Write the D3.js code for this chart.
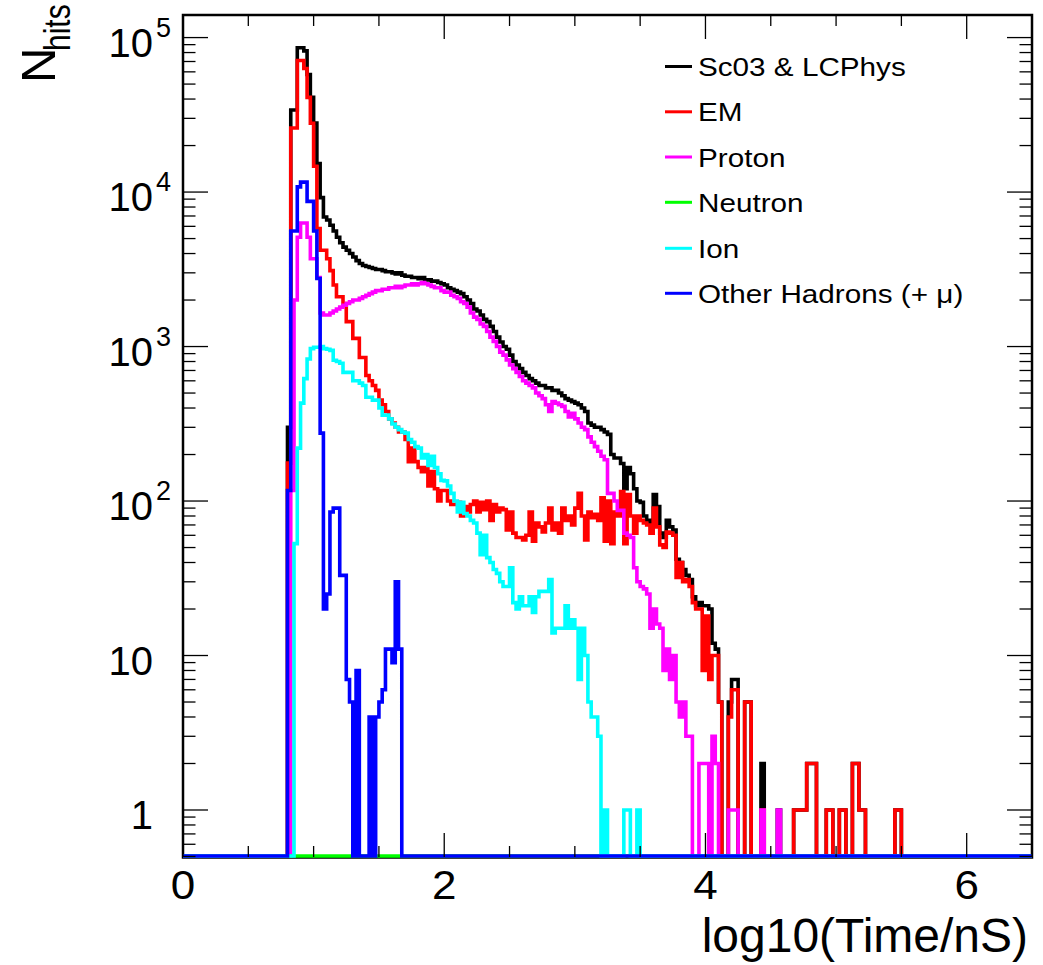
<!DOCTYPE html>
<html><head><meta charset="utf-8">
<script src="https://cdn.jsdelivr.net/npm/d3@7"></script>
<style>body{margin:0;background:#fff;} svg{display:block;}</style>
</head><body>
<svg id="chart" width="1043" height="965"></svg>
<script>
// ---------- data (histogram bins of width 0.025 in log10(Time/nS), first listed bin starts at 0.80) ----------
const binLow = 0.8;
const binWidth = 0.025;
const nBins = 260;
const xDomain = [0, 6.5];
const yDomain = [0.5, 140000];
const xTickLabels = ["0", "2", "4", "6"];
const yTickDecades = [0, 1, 2, 3, 4, 5];

const totalCounts = [300, 34000, 34000, 86000, 86000, 82000, 57700, 41000, 28000, 15300,
 9200, 6900, 6600, 6100, 5600, 5100, 4700, 4400, 4200, 4000,
 3800, 3600, 3450, 3350, 3300, 3250, 3200, 3150, 3150, 3100,
 3050, 3050, 3000, 2950, 3000, 2900, 2850, 2850, 2800, 2800,
 2750, 2800, 2700, 2700, 2650, 2650, 2600, 2550, 2500, 2400,
 2350, 2300, 2250, 2200, 2100, 2000, 1900, 1750, 1700, 1600,
 1500, 1450, 1350, 1250, 1150, 1070, 1000, 960, 880, 800,
 760, 720, 680, 650, 620, 600, 580, 560, 560, 540,
 540, 520, 520, 500, 480, 460, 450, 440, 430, 420,
 400, 380, 320, 310, 300, 300, 290, 280, 270, 200,
 190, 190, 175, 120, 165, 150, 120, 100, 98, 80,
 75, 73, 110, 92, 62, 58, 75, 68, 65, 42,
 40, 36, 33, 31, 24, 21, 22, 21, 21, 20,
 12, 11, 5, 0, 0, 5, 7, 7, 0, 0,
 5, 5, 0, 0, 0, 2, 0, 0, 0, 0,
 1, 0, 0, 0, 0, 1, 1, 1, 1, 2,
 2, 2, 0, 0, 0, 1, 1, 0, 0, 1,
 1, 0, 0, 2, 2, 1, 1, 0, 0, 0,
 0, 0, 0, 0, 0, 0, 1, 1];

const emCounts = [176, 26000, 26000, 71000, 71000, 63000, 41000, 27900, 14700, 5800,
 4200, 4200, 3700, 3100, 2500, 2100, 2100, 1900, 1450, 1450,
 1130, 1130, 850, 850, 650, 600, 560, 520, 450, 420,
 380, 340, 320, 300, 280, 280, 250, 180, 220, 180,
 165, 155, 165, 125, 155, 120, 100, 117, 117, 100,
 95, 95, 98, 80, 92, 85, 95, 100, 85, 98,
 88, 100, 75, 95, 85, 90, 88, 65, 85, 62,
 58, 58, 56, 60, 85, 55, 72, 68, 63, 72,
 90, 65, 72, 62, 90, 75, 80, 70, 90, 112,
 80, 56, 85, 78, 82, 75, 105, 55, 100, 53,
 85, 80, 115, 53, 110, 80, 62, 80, 75, 72,
 70, 62, 90, 68, 52, 50, 63, 62, 60, 32,
 40, 30, 31, 28, 22, 20, 20, 8, 18, 7,
 10, 10, 5, 0, 0, 4, 6, 6, 0, 0,
 5, 5, 0, 0, 0, 1, 0, 0, 0, 0,
 0, 0, 0, 0, 0, 1, 1, 1, 1, 2,
 2, 2, 0, 0, 0, 1, 1, 0, 0, 1,
 1, 0, 0, 2, 2, 1, 1, 0, 0, 0,
 0, 0, 0, 0, 0, 0, 1, 1];

const protonCounts = [0, 117, 2000, 5100, 6300, 6300, 5100, 3700, 3700, 2800,
 1650, 1600, 1600, 1650, 1700, 1750, 1800, 1850, 1900, 1950,
 2000, 2000, 2050, 2100, 2150, 2200, 2250, 2300, 2300, 2350,
 2350, 2400, 2400, 2450, 2400, 2450, 2500, 2500, 2550, 2500,
 2550, 2600, 2550, 2500, 2450, 2400, 2400, 2300, 2250, 2250,
 2150, 2100, 2050, 1950, 1900, 1800, 1650, 1550, 1500, 1400,
 1350, 1250, 1150, 1080, 1000, 920, 880, 820, 760, 720,
 680, 640, 600, 580, 560, 540, 500, 480, 460, 420,
 380, 440, 430, 420, 410, 380, 350, 370, 340, 320,
 300, 290, 260, 240, 225, 210, 195, 185, 112, 112,
 100, 87, 87, 62, 60, 58, 37, 30, 28, 27,
 25, 15, 20, 16, 15, 8, 11, 7, 10, 5,
 4, 5, 3, 3, 0, 0, 2, 2, 2, 0,
 3, 2, 0, 0, 0, 1, 1, 1, 0, 0,
 0, 0, 0, 0, 0, 1, 0, 0, 0, 0,
 1];

const neutronCounts = [];

const ionCounts = [0, 0, 53, 220, 430, 620, 830, 970, 990, 990,
 1000, 970, 960, 945, 815, 800, 780, 680, 680, 680,
 600, 600, 580, 560, 470, 470, 450, 450, 400, 360,
 360, 340, 315, 300, 290, 280, 275, 250, 240, 225,
 220, 190, 200, 170, 195, 165, 150, 136, 135, 125,
 112, 100, 85, 98, 83, 80, 75, 72, 62, 45,
 60, 43, 40, 36, 34, 30, 28, 28, 37, 22,
 20, 24, 21, 21, 24, 19, 24, 26, 26, 26,
 31, 14, 15, 15, 15, 21, 15, 17, 15, 7,
 15, 10, 5, 4, 4, 3, 0, 1, 0, 0,
 0, 0, 0, 1, 1, 0, 0, 1];

const otherCounts = [117, 5600, 5600, 10800, 11600, 11600, 8700, 8700, 5600, 2760,
 275, 20, 25, 85, 90, 90, 33, 33, 7, 5,
 0, 8, 0, 0, 0, 4, 0, 4, 5, 6,
 11, 11, 9, 30, 11];

const seriesNames = ["Sc03 & LCPhys", "EM", "Proton", "Neutron", "Ion", "Other Hadrons (+ \u03bc)"];
const seriesColors = ["#000000", "#ff0000", "#ff00ff", "#00ff00", "#00ffff", "#0000ff"];
const seriesCounts = [totalCounts, emCounts, protonCounts, neutronCounts, ionCounts, otherCounts];

// ---------- layout ----------
const L = 183, R = 1032, T = 15, B = 856;
const FONT = "'Liberation Sans', Arial, Helvetica, sans-serif";
const svg = d3.select("#chart");
const x = d3.scaleLinear().domain(xDomain).range([L, R]);
const y = d3.scaleLog().domain(yDomain).range([856.5, T]);

svg.append("defs").append("clipPath").attr("id", "plotclip")
  .append("rect").attr("x", L).attr("y", T).attr("width", R - L).attr("height", 859 - T);

// frame
svg.append("rect").attr("x", L).attr("y", T).attr("width", R - L).attr("height", 857.5 - T)
  .attr("fill", "none").attr("stroke", "#000").attr("stroke-width", 2.5);

// histograms
const firstBin = Math.round(binLow / binWidth);
function histPoints(counts) {
  const pts = [];
  for (let b = 0; b < nBins; b++) {
    const k = b - firstBin;
    const v = (k >= 0 && k < counts.length) ? counts[k] : 0;
    const yy = v > 0 ? y(Math.max(v, yDomain[0])) : B;
    pts.push([x(b * binWidth), yy]);
    pts.push([x((b + 1) * binWidth), yy]);
  }
  return pts;
}
const line = d3.line();
const hg = svg.append("g").attr("clip-path", "url(#plotclip)");
seriesCounts.forEach((c, i) => {
  hg.append("path").attr("d", line(histPoints(c)))
    .attr("fill", "none").attr("stroke", seriesColors[i])
    .attr("stroke-width", 3.6).attr("stroke-linejoin", "miter");
});

// y ticks (left and right)
const tg = svg.append("g").attr("stroke", "#000").attr("stroke-width", 1.3);
for (let d = -1; d <= 5; d++) {
  for (let m = 1; m <= 9; m++) {
    const v = m * Math.pow(10, d);
    if (v < yDomain[0] || v > yDomain[1]) continue;
    const len = (m === 1) ? 25 : 12.5;
    const yy = y(v);
    tg.append("line").attr("x1", L).attr("x2", L + len).attr("y1", yy).attr("y2", yy);
    tg.append("line").attr("x1", R).attr("x2", R - len).attr("y1", yy).attr("y2", yy);
  }
}
// x ticks (bottom and top)
for (let v = 0; v <= 6.5001; v += 0.5) {
  const major = Math.abs(v % 2) < 1e-6;
  const len = major ? 24 : 11;
  const xx = x(v);
  tg.append("line").attr("x1", xx).attr("x2", xx).attr("y1", 857).attr("y2", 857 - len);
  tg.append("line").attr("x1", xx).attr("x2", xx).attr("y1", T).attr("y2", T + len);
}

// x tick labels
xTickLabels.forEach(t => {
  svg.append("text").attr("transform", `translate(${x(+t)},899) scale(1.1,1)`)
    .attr("text-anchor", "middle").attr("font-family", FONT).attr("font-size", 40).text(t);
});
// y tick labels
yTickDecades.forEach(d => {
  const yy = y(Math.pow(10, d));
  svg.append("text").attr("transform", `translate(153,${yy + 19})`)
    .attr("text-anchor", "end").attr("font-family", FONT).attr("font-size", 40)
    .text(d === 0 ? "1" : "10");
  if (d >= 2) {
    svg.append("text").attr("transform", `translate(156,${yy - 1})`)
      .attr("text-anchor", "start").attr("font-family", FONT).attr("font-size", 27)
      .text(String(d));
  }
});

// axis titles
svg.append("text").attr("x", 1028).attr("y", 952).attr("text-anchor", "end")
  .attr("font-family", FONT).attr("font-size", 48).text("log10(Time/nS)");
svg.append("text").attr("transform", "translate(55,83) rotate(-90)")
  .attr("font-family", FONT).attr("font-size", 49).text("N");
svg.append("text").attr("transform", "translate(70,51) rotate(-90) scale(1,1.25)")
  .attr("font-family", FONT).attr("font-size", 30).text("hits");

// legend
const legendY = [66.5, 111.8, 157, 202.3, 248.3, 293.3];
seriesNames.forEach((n, i) => {
  svg.append("line").attr("x1", 665).attr("x2", 692).attr("y1", legendY[i]).attr("y2", legendY[i])
    .attr("stroke", seriesColors[i]).attr("stroke-width", 3);
  svg.append("text").attr("transform", `translate(698,${legendY[i] + 9.5}) scale(1.12,1)`)
    .attr("font-family", FONT).attr("font-size", 26.5).text(n);
});
</script>
</body></html>
